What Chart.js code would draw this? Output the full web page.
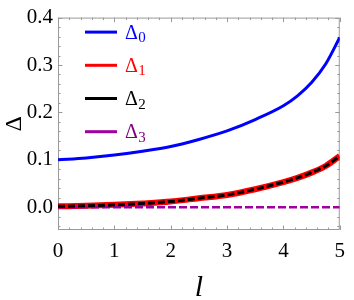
<!DOCTYPE html>
<html>
<head>
<meta charset="utf-8">
<script src="https://cdn.jsdelivr.net/npm/chart.js@4/dist/chart.umd.min.js"></script>
<style>
  html, body { margin: 0; padding: 0; background: #fff; }
  #warm { position: absolute; left: -50px; top: 0; }
  #warmText { position: absolute; left: -400px; top: 0; font: 20px "Liberation Serif"; }
</style>
</head>
<body>
<span id="warmText">0.1 l Δ <i>l</i></span>
<canvas id="warm" width="20" height="20"></canvas>
<div style="width:354px;height:300px"><canvas id="deltaChart"></canvas></div>
<script>
'use strict';

// --- data ---
const L_VALUES = [0, 0.5, 1, 1.5, 2, 2.5, 3, 3.5, 4, 4.25, 4.5, 4.75, 5];
const DELTA0 = [0.100, 0.104, 0.110, 0.118, 0.128, 0.143, 0.161, 0.185, 0.214, 0.235, 0.263, 0.302, 0.358];
const DELTA1 = [0.002, 0.003, 0.005, 0.008, 0.012, 0.019, 0.026, 0.038, 0.053, 0.062, 0.073, 0.087, 0.108];
const DELTA2 = [0.002, 0.003, 0.005, 0.008, 0.012, 0.019, 0.026, 0.038, 0.053, 0.062, 0.073, 0.087, 0.108];
const DELTA3 = [0, 0, 0, 0, 0, 0, 0, 0, 0, 0, 0, 0, 0];
const SERIES_NAMES = ['Δ0', 'Δ1', 'Δ2', 'Δ3'];
const X_TICKS = [0, 1, 2, 3, 4, 5];
const Y_TICKS = [0, 0.1, 0.2, 0.3, 0.4];
const X_MINOR_STEP = 0.2;
const Y_MINOR_STEP = 0.02;

const SERIF = '"Liberation Serif"';

// warm the serif font up before the chart draws
const warm = document.getElementById('warm').getContext('2d');
warm.font = '20px "Liberation Serif"';
warm.fillText('0.1 l Δ Liberation Serif', 0, 15);
warm.font = 'italic 20px "Liberation Serif"';
warm.fillText('l', 0, 15);

const pts = ys => L_VALUES.map((x, i) => ({ x: x, y: ys[i] }));

// frame + inward ticks on all four sides (Mathematica style)
const frameTicks = {
  id: 'frameTicks',
  beforeDatasetsDraw(chart) {
    const { ctx, chartArea: a, scales } = chart;
    const sx = scales.x, sy = scales.y;
    ctx.save();
    ctx.strokeStyle = '#9a9a9a';
    ctx.lineWidth = 1;
    ctx.strokeRect(a.left + 0.5, a.top + 0.5, a.right - a.left - 1, a.bottom - a.top - 1);
    ctx.beginPath();
    for (let v = sx.min; v <= sx.max + 1e-9; v += X_MINOR_STEP) {
      const major = X_TICKS.some(t => Math.abs(t - v) < 1e-6);
      const len = major ? 4.5 : 2.5;
      const px = Math.round(sx.getPixelForValue(v)) + 0.5;
      ctx.moveTo(px, a.bottom); ctx.lineTo(px, a.bottom - len);
      ctx.moveTo(px, a.top); ctx.lineTo(px, a.top + len);
    }
    for (let v = -0.04; v <= sy.max + 1e-9; v += Y_MINOR_STEP) {
      const major = Y_TICKS.some(t => Math.abs(t - v) < 1e-6);
      const len = major ? 4.5 : 2.5;
      const py = Math.round(sy.getPixelForValue(v)) + 0.5;
      ctx.moveTo(a.left, py); ctx.lineTo(a.left + len, py);
      ctx.moveTo(a.right, py); ctx.lineTo(a.right - len, py);
    }
    ctx.stroke();
    ctx.restore();
  },
};

// legend inside plot, with subscripts
const subLegend = {
  id: 'subLegend',
  afterDatasetsDraw(chart) {
    const { ctx, chartArea: a } = chart;
    ctx.save();
    chart.data.datasets.forEach((ds, i) => {
      const y = a.top + 14.5 + i * 33.2;
      ctx.strokeStyle = ds.borderColor;
      ctx.lineWidth = 3;
      ctx.setLineDash([]);
      ctx.beginPath();
      ctx.moveTo(a.left + 27, y);
      ctx.lineTo(a.left + 59, y);
      ctx.stroke();
      const name = ds.label;
      ctx.fillStyle = ds.textColor;
      ctx.textBaseline = 'alphabetic';
      ctx.textAlign = 'left';
      ctx.font = '20px ' + SERIF;
      const tx = a.left + 67;
      ctx.fillText(name[0], tx, y + 6.5);
      const w = ctx.measureText(name[0]).width;
      ctx.font = '15px ' + SERIF;
      ctx.fillText(name.slice(1), tx + w + 0.5, y + 10);
    });
    ctx.restore();
  },
};

const chart = new Chart(document.getElementById('deltaChart'), {
  type: 'line',
  data: {
    datasets: [
      {
        label: SERIES_NAMES[0],
        data: pts(DELTA0),
        borderColor: '#0000ff',
        textColor: '#0000ff',
        borderWidth: 3,
        pointRadius: 0,
        cubicInterpolationMode: 'monotone',
        order: 0,
      },
      {
        label: SERIES_NAMES[1],
        data: pts(DELTA1),
        borderColor: '#ff0000',
        textColor: '#ff0000',
        borderWidth: 6,
        pointRadius: 0,
        cubicInterpolationMode: 'monotone',
        order: 4,
      },
      {
        label: SERIES_NAMES[2],
        data: pts(DELTA2),
        borderColor: '#000000',
        textColor: '#000000',
        borderWidth: 3,
        borderDash: [7, 3],
        pointRadius: 0,
        cubicInterpolationMode: 'monotone',
        order: 1,
      },
      {
        label: SERIES_NAMES[3],
        data: pts(DELTA3),
        borderColor: '#a000a0',
        textColor: '#800080',
        borderWidth: 2.5,
        borderDash: [8, 3],
        pointRadius: 0,
        order: 2,
      },
    ],
  },
  options: {
    maintainAspectRatio: false,
    animation: false,
    layout: { padding: { top: 15, right: 6, left: 0, bottom: 0 } },
    plugins: { legend: { display: false }, tooltip: { enabled: false } },
    scales: {
      x: {
        type: 'linear',
        min: 0,
        max: 5,
        afterBuildTicks: s => { s.ticks = X_TICKS.map(v => ({ value: v })); },
        afterFit: s => { s.height = 70; },
        grid: { display: false, drawTicks: false },
        border: { display: false },
        ticks: {
          color: '#000',
          padding: 9,
          maxRotation: 0,
          font: { family: SERIF, size: 21 },
          callback: v => String(v),
        },
        title: {
          display: true,
          text: 'l',
          color: '#000',
          padding: { top: 0, bottom: -6 },
          font: { family: SERIF, size: 30, style: 'italic' },
        },
      },
      y: {
        min: -0.048,
        max: 0.4,
        afterBuildTicks: s => { s.ticks = Y_TICKS.map(v => ({ value: v })); },
        afterFit: s => { s.width = 58; },
        grid: { display: false, drawTicks: false },
        border: { display: false },
        ticks: {
          color: '#000',
          padding: 5,
          font: { family: SERIF, size: 21 },
          callback: v => Number(v).toFixed(1),
        },
        title: {
          display: true,
          text: 'Δ',
          color: '#000',
          padding: { top: 0, bottom: 0 },
          font: { family: SERIF, size: 24 },
        },
      },
    },
  },
  plugins: [frameTicks, subLegend],
});
setTimeout(() => chart.draw(), 30);
</script>
</body>
</html>
